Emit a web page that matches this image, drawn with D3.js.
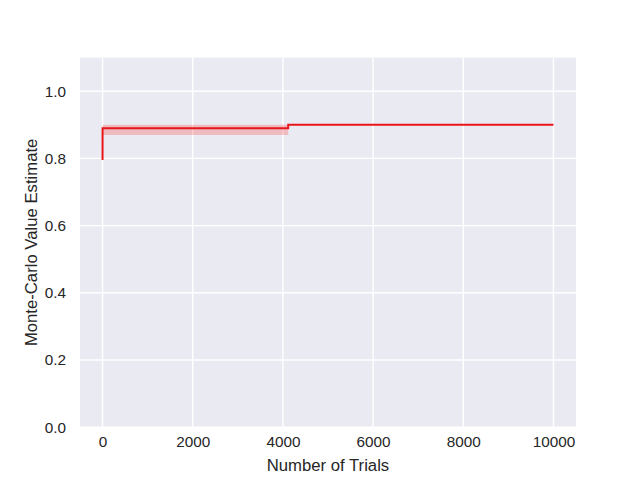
<!DOCTYPE html>
<html>
<head>
<meta charset="utf-8">
<script src="https://cdn.jsdelivr.net/npm/d3@7"></script>
<style>
  body { margin: 0; background: white; }
  text { font-family: "Liberation Sans", Arial, sans-serif; fill: #262626; }
</style>
</head>
<body>
<svg id="chart"></svg>
<script>
// mean estimate with confidence band
var trials = [0, 1, 4117, 4118, 10000];
var meanVals = [0.795, 0.89, 0.89, 0.90, 0.90];
var lowVals = [0.785, 0.87, 0.87, 0.90, 0.90];
var highVals = [0.805, 0.90, 0.90, 0.90, 0.90];
var xTicks = [0, 2000, 4000, 6000, 8000, 10000];
var yTicks = [0.0, 0.2, 0.4, 0.6, 0.8, 1.0];

var W = 640, H = 480;
var pLeft = 80, pRight = 576, pTop = 57.6, pBottom = 427.2;

var svg = d3.select("#chart")
    .attr("width", W)
    .attr("height", H)
    .style("background-color", "white");

var x = d3.scaleLinear().domain([-500, 10500]).range([pLeft, pRight]);
var y = d3.scaleLinear().domain([0, 1.1]).range([pBottom, pTop]);

svg.append("rect")
    .attr("x", pLeft).attr("y", pTop)
    .attr("width", pRight - pLeft).attr("height", pBottom - pTop)
    .attr("fill", "#eaeaf2");

// grid
svg.append("g").selectAll("line").data(xTicks).enter().append("line")
    .attr("x1", function(d){ return x(d); }).attr("x2", function(d){ return x(d); })
    .attr("y1", pTop).attr("y2", pBottom)
    .attr("stroke", "white").attr("stroke-width", 1.4);
svg.append("g").selectAll("line").data(yTicks).enter().append("line")
    .attr("y1", function(d){ return y(d); }).attr("y2", function(d){ return y(d); })
    .attr("x1", pLeft).attr("x2", pRight)
    .attr("stroke", "white").attr("stroke-width", 1.4);

var pts = trials.map(function(t, i){
    return {t: t, m: meanVals[i], lo: lowVals[i], hi: highVals[i]};
});

svg.append("path")
    .datum(pts)
    .attr("fill", "red")
    .attr("fill-opacity", 0.2)
    .attr("d", d3.area()
        .x(function(d){ return x(d.t); })
        .y0(function(d){ return y(d.lo); })
        .y1(function(d){ return y(d.hi); }));

svg.append("path")
    .datum(pts)
    .attr("fill", "none")
    .attr("stroke", "#e8161b")
    .attr("stroke-width", 2)
    .attr("d", d3.line()
        .x(function(d){ return x(d.t); })
        .y(function(d){ return y(d.m); }));

// axes
var xAxis = svg.append("g")
    .attr("transform", "translate(0," + pBottom + ")")
    .call(d3.axisBottom(x).tickValues(xTicks).tickSize(0).tickPadding(9).tickFormat(d3.format("d")));
var yAxis = svg.append("g")
    .attr("transform", "translate(" + pLeft + ",0)")
    .call(d3.axisLeft(y).tickValues(yTicks).tickSize(0).tickPadding(14).tickFormat(d3.format(".1f")));
[xAxis, yAxis].forEach(function(a){
    a.select(".domain").remove();
    a.selectAll("text").style("font-size", "15.3px")
        .style("font-family", "Liberation Sans, Arial, sans-serif").attr("fill", "#262626");
});

svg.append("text")
    .attr("x", (pLeft + pRight) / 2).attr("y", 471)
    .attr("text-anchor", "middle")
    .style("font-size", "16.7px")
    .text("Number of Trials");

svg.append("text")
    .attr("transform", "translate(37," + ((pTop + pBottom) / 2) + ") rotate(-90)")
    .attr("text-anchor", "middle")
    .style("font-size", "16.7px")
    .text("Monte-Carlo Value Estimate");
</script>
</body>
</html>
